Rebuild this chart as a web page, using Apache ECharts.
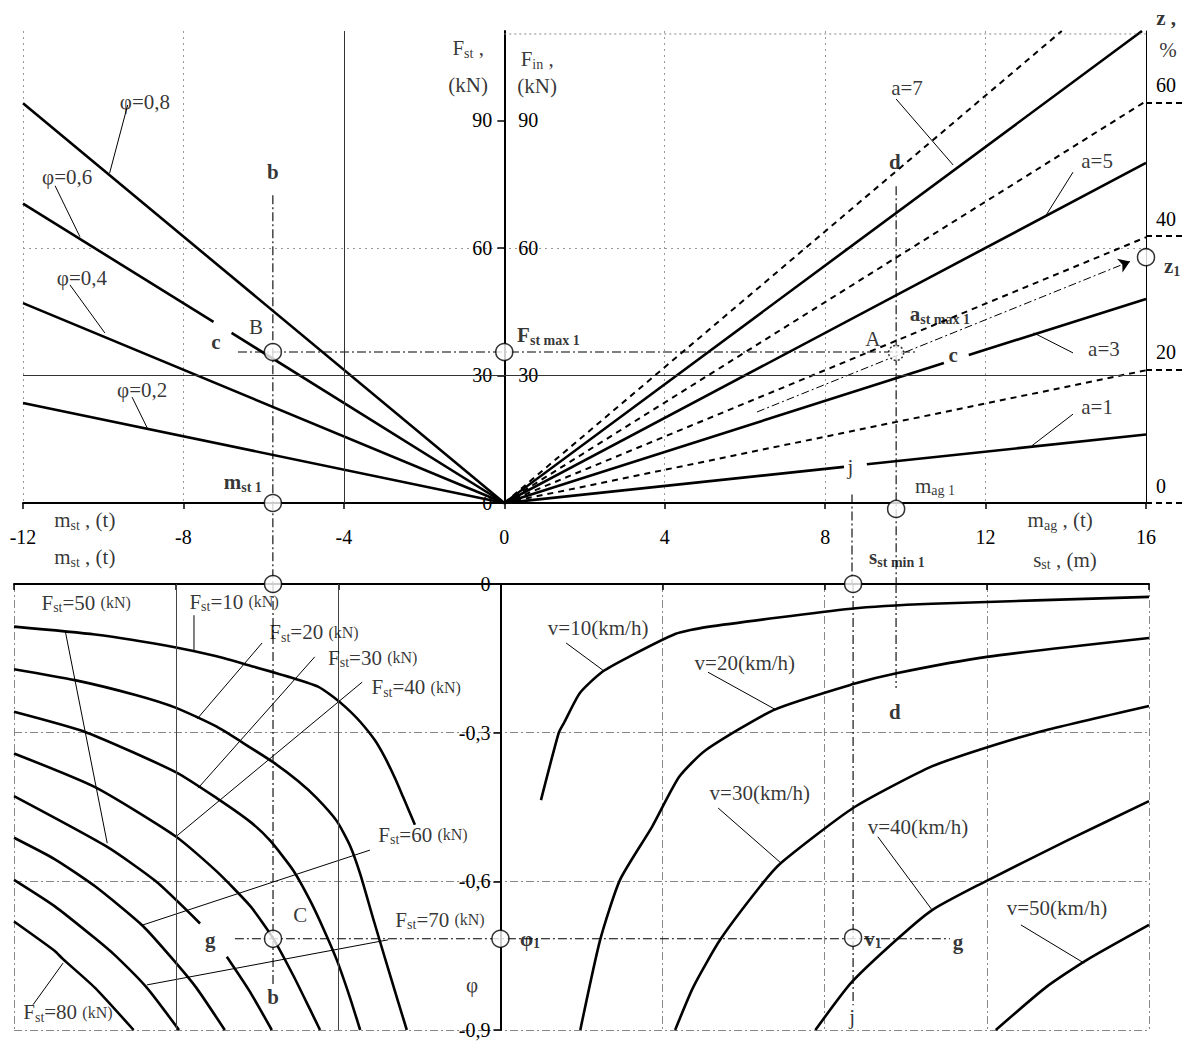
<!DOCTYPE html>
<html><head><meta charset="utf-8">
<script src="https://cdn.jsdelivr.net/npm/echarts@6/dist/echarts.min.js"></script>
<style>html,body{margin:0;padding:0;background:#fff}#c{width:1186px;height:1042px}</style>
</head><body><div id="c"></div>
<script>
// ================= DATA =================
const xTicks = [-12, -8, -4, 0, 4, 8, 12, 16];
const fStTicks = [0, 30, 60, 90];
const fInTicks = [30, 60, 90];
const zTicks = [0, 20, 40, 60];
const phiTicks = [-0.9, -0.6, -0.3, 0];

// top-left: F_st vs m_st for friction coefficient φ = 0.8, 0.6, 0.4, 0.2
const phiLines = [
  [[-12, 94.0], [0, 0]],
  [[-12, 70.4], [-7.25, 42.6], null, [-6.8, 40.0], [0, 0]],
  [[-12, 47.0], [0, 0]],
  [[-12, 23.5], [0, 0]]
];
// top-right: F_in vs m_ag for deceleration a = 7, 5, 3, 1
const accelLines = [
  [[0, 0], [15.9, 111]],
  [[0, 0], [16, 80]],
  [[0, 0], [10.96, 32.9], null, [11.58, 34.8], [16, 48]],
  [[0, 0], [8.47, 8.5], null, [9.04, 9.1], [16, 16.1]]
];
// top-right dashed: grade lines z = 20, 40, 60, 80 %
const gradeLines = [
  [[0, 0], [16, 31.2]],
  [[0, 0], [16, 62.5]],
  [[0, 0], [16, 94.5]],
  [[0, 0], [13.9, 111]]
];
// bottom-left: φ vs m_st for F_st = 10..80 kN
const stCurves = [
  [[-12,-0.086],[-10,-0.102],[-8,-0.128],[-7,-0.146],[-6.17,-0.165],[-5.11,-0.19],[-4.5,-0.207],[-4.12,-0.228],[-3.8,-0.25],[-3.46,-0.278],[-3.1,-0.315],[-2.85,-0.35],[-2.6,-0.392],[-2.4,-0.43],[-2.11,-0.486]],
  [[-12,-0.172],[-10.5,-0.194],[-9,-0.224],[-8,-0.25],[-7,-0.288],[-6.17,-0.33],[-5.6,-0.36],[-5,-0.397],[-4.53,-0.432],[-4.04,-0.478],[-3.71,-0.528],[-3.46,-0.585],[-3.14,-0.675],[-2.72,-0.79],[-2.31,-0.90]],
  [[-12,-0.258],[-10.2,-0.30],[-8,-0.38],[-7,-0.432],[-6.17,-0.48],[-5.68,-0.518],[-5.11,-0.578],[-4.7,-0.638],[-4.37,-0.695],[-4.04,-0.758],[-3.71,-0.835],[-3.46,-0.90]],
  [[-12,-0.342],[-10,-0.41],[-8,-0.51],[-7,-0.58],[-6.17,-0.65],[-5.6,-0.716],[-5.11,-0.79],[-4.7,-0.858],[-4.45,-0.90]],
  [[-12,-0.428],[-9.71,-0.53],[-8.5,-0.6],[-7.41,-0.685],null,[-6.75,-0.752],[-6.2,-0.82],[-5.64,-0.90]],
  [[-12,-0.512],[-11,-0.555],[-10,-0.61],[-8.82,-0.69],[-8,-0.765],[-7.5,-0.815],[-6.8,-0.90]],
  [[-12,-0.597],[-11,-0.65],[-10,-0.715],[-9.5,-0.75],[-8.72,-0.815],[-7.93,-0.90]],
  [[-12,-0.681],[-11,-0.74],[-10.79,-0.757],[-10,-0.815],[-9.05,-0.90]]
];
// bottom-right: φ vs s_st for v = 10..50 km/h
const vCurves = [
  [[16,-0.026],[10.65,-0.040],[8.65,-0.050],[5.07,-0.087],[4.31,-0.101],[3.17,-0.147],[2.5,-0.178],[1.96,-0.22],[1.57,-0.28],[1.44,-0.30],[1.0,-0.436]],
  [[16,-0.109],[12,-0.147],[9.77,-0.18],[8.7,-0.202],[6.75,-0.254],[5.07,-0.335],[4.41,-0.389],[3.74,-0.49],[2.95,-0.597],[2.46,-0.718],[1.97,-0.90]],
  [[16,-0.246],[13.45,-0.295],[11.8,-0.335],[10.56,-0.371],[8.7,-0.452],[6.92,-0.563],[6.4,-0.611],[5.42,-0.718],[4.76,-0.813],[4.31,-0.90]],
  [[16,-0.438],[14,-0.517],[11.8,-0.607],[10.65,-0.658],[9.77,-0.718],[8.65,-0.805],[7.77,-0.90]],
  [[16,-0.688],[14.46,-0.759],[13.47,-0.813],[12.22,-0.90]]
];
// construction (dash-dot) lines
const constrTop = [
  [[-6.64, 35.5], [10.3, 35.5]],
  [[-5.77, 72.4], [-5.77, -18.8]],
  [[9.77, 74.5], [9.77, -18.8]],
  [[8.67, 2.0], [8.67, -18.8]]
];
const arrowTop = [[6.3, 21.4], [15.6, 56.8]];
const constrBot = [
  [[-5.61, 0], [-5.61, -0.81]],
  [[9.76, 0], [9.76, -0.21]],
  [[8.7, 0], [8.7, -0.85]],
  [[-6.55, -0.716], [11.09, -0.716]]
];
const topFrame = [[0, 110.3], [16, 110.3]];
// key points
const circlesTop = [[-5.77, 35.5], [0, 35.5], [-5.77, 0], [9.77, -1.4], [16, 57.8]];
const circleA = [[9.77, 35.3]];
const circlesBot = [[-5.61, 0], [8.7, 0], [-5.61, -0.716], [0, -0.716], [8.7, -0.714]];
// leader lines
const leadersTop = [
  [[-9.39, 93.6], [-9.84, 77.6]], [[-11.2, 74.6], [-10.58, 62.6]],
  [[-10.83, 51.3], [-9.96, 40.0]], [[-9.28, 24.9], [-8.9, 17.6]],
  [[9.77, 95.0], [11.19, 79.5]], [[14.18, 77.8], [13.51, 67.7]],
  [[14.18, 35.3], [13.2, 40.0]], [[14.18, 20.9], [13.16, 13.5]]
];
const leadersBot = [
  [[-10.74, -0.093], [-9.70, -0.523]], [[-7.56, -0.063], [-7.56, -0.133]],
  [[-5.88, -0.119], [-7.48, -0.272]], [[-4.58, -0.147], [-7.46, -0.412]],
  [[-3.41, -0.198], [-7.98, -0.508]], [[-3.22, -0.537], [-8.82, -0.688]],
  [[-2.77, -0.718], [-8.72, -0.809]], [[-11.53, -0.849], [-10.79, -0.765]],
  [[1.62, -0.119], [2.53, -0.174]], [[5.12, -0.178], [6.8, -0.254]],
  [[5.37, -0.452], [6.92, -0.563]], [[9.31, -0.51], [10.65, -0.658]],
  [[12.84, -0.688], [14.4, -0.765]]
];
// text annotations [x, y, text]  (_{..} subscript, ~{..} small)
const labelsTop = [
  [-8.96, 94.3, 'φ=0,8'], [-10.9, 76.7, 'φ=0,6'], [-10.53, 52.9, 'φ=0,4'], [-9.03, 26.6, 'φ=0,2'],
  [10.04, 97.6, 'a=7'], [14.78, 80.4, 'a=5'], [14.95, 36.2, 'a=3'], [14.78, 22.6, 'a=1'],
  [-6.19, 41.4, 'B'], [9.19, 38.6, 'A'], [8.63, 8.5, 'j'], [10.74, 4.0, 'm_{ag 1}'],
  [-0.9, 107, 'F_{st} ,'], [-0.9, 98.3, '(kN)'], [0.82, 104.4, 'F_{in} ,'], [0.82, 98, '(kN)'],
  [16.55, 106.5, '%'],
  [-10.46, -4.0, 'm_{st} , (t)'], [-10.46, -12.7, 'm_{st} , (t)'],
  [13.86, -4.0, 'm_{ag} , (t)'], [13.98, -13.4, 's_{st} , (m)']
];
const boldTop = [
  [-5.77, 77.8, 'b'], [-7.19, 37.9, 'c'], [11.19, 34.8, 'c'], [9.74, 80.2, 'd'],
  [-6.52, 4.9, 'm_{st 1}'], [1.1, 39.5, 'F_{st max 1}'], [10.86, 44.4, 'a_{st max 1}'],
  [16.65, 55.7, 'z_{1}'], [16.5, 114.1, 'z ,'], [9.79, -12.7, 's_{st min 1}']
];
const labelsBot = [
  [-10.22, -0.038, 'F_{st}=50 ~{(kN)}'], [-6.57, -0.036, 'F_{st}=10 ~{(kN)}'],
  [-4.6, -0.097, 'F_{st}=20 ~{(kN)}'], [-3.15, -0.149, 'F_{st}=30 ~{(kN)}'],
  [-2.08, -0.208, 'F_{st}=40 ~{(kN)}'], [-1.91, -0.506, 'F_{st}=60 ~{(kN)}'],
  [-1.49, -0.678, 'F_{st}=70 ~{(kN)}'], [-10.67, -0.864, 'F_{st}=80 ~{(kN)}'],
  [2.41, -0.089, 'v=10(km/h)'], [6.03, -0.159, 'v=20(km/h)'], [6.4, -0.422, 'v=30(km/h)'],
  [10.3, -0.49, 'v=40(km/h)'], [13.73, -0.654, 'v=50(km/h)'],
  [-4.94, -0.668, 'C'], [-0.7, -0.809, 'φ'], [8.68, -0.874, 'j']
];
const boldBot = [
  [-7.16, -0.718, 'g'], [11.29, -0.722, 'g'], [-5.61, -0.833, 'b'],
  [0.73, -0.716, 'φ_{1}'], [9.19, -0.716, 'v_{1}'], [9.73, -0.258, 'd']
];

// ================= RENDER =================
const FONT = 'Liberation Serif';
const RICH = {
  n: {fontFamily: FONT, fontSize: 21, color: '#000', lineHeight: 24},
  s: {fontFamily: FONT, fontSize: 14, color: '#000', lineHeight: 14, verticalAlign: 'bottom'},
  k: {fontFamily: FONT, fontSize: 16, color: '#000', lineHeight: 24},
  b: {fontFamily: FONT, fontSize: 21, fontWeight: 'bold', color: '#000', lineHeight: 24},
  bs: {fontFamily: FONT, fontSize: 14, fontWeight: 'bold', color: '#000', lineHeight: 14, verticalAlign: 'bottom'}
};
function toRich(t, bold) {
  return t.split(/(_\{[^}]*\}|~\{[^}]*\})/).filter(p => p.length).map(p => {
    if (p.startsWith('_{')) return '{' + (bold ? 'bs' : 's') + '|' + p.slice(2, -1) + '}';
    if (p.startsWith('~{')) return '{k|' + p.slice(2, -1) + '}';
    return '{' + (bold ? 'b' : 'n') + '|' + p + '}';
  }).join('');
}
const CURVE = {color: '#000', width: 2.6};
const DASH = {color: '#000', width: 2, type: [6, 5]};
const DASHDOT = {color: '#000', width: 1.1, type: [9, 3, 2, 3]};
const LEADER = {color: '#000', width: 1};
const S = [];
function addLine(pts, xi, yi, style, extra) {
  let seg = [];
  const flush = () => {
    if (seg.length > 1) S.push(Object.assign({type: 'line', xAxisIndex: xi, yAxisIndex: yi, data: seg,
      showSymbol: false, symbol: 'none', silent: true, animation: false, clip: false, lineStyle: style, z: 3}, extra || {}));
    seg = [];
  };
  pts.forEach(p => { if (p === null) flush(); else seg.push(p); });
  flush();
}
function addLabels(arr, xi, yi, bold) {
  S.push({type: 'scatter', xAxisIndex: xi, yAxisIndex: yi, symbol: 'circle', symbolSize: 1,
    itemStyle: {color: 'rgba(0,0,0,0)'}, clip: false, silent: true, animation: false, z: 10,
    data: arr.map(a => ({value: [a[0], a[1]], rt: toRich(a[2], bold)})),
    label: {show: true, position: 'inside', formatter: p => p.data.rt, rich: RICH}});
}
function addCircles(arr, xi, yi, size, dotted) {
  S.push({type: 'scatter', xAxisIndex: xi, yAxisIndex: yi, symbol: 'circle', symbolSize: size,
    clip: false, silent: true, animation: false, z: 8, data: arr,
    itemStyle: {color: '#fff', borderColor: '#000', borderWidth: 1.5, borderType: dotted ? [2, 2] : 'solid'}});
}

phiLines.forEach(l => addLine(l, 0, 0, CURVE));
accelLines.forEach(l => addLine(l, 0, 0, CURVE));
gradeLines.forEach(l => addLine(l, 0, 0, DASH));
stCurves.forEach(l => addLine(l, 1, 3, CURVE, {smooth: 0.2}));
vCurves.forEach(l => addLine(l, 1, 3, CURVE, {smooth: 0.2}));
constrTop.forEach(l => addLine(l, 0, 0, DASHDOT));
constrBot.forEach(l => addLine(l, 1, 3, DASHDOT));
leadersTop.forEach(l => addLine(l, 0, 0, LEADER));
leadersBot.forEach(l => addLine(l, 1, 3, LEADER));
addLine(topFrame, 0, 0, {color: '#888', width: 1, type: [2, 3]});
S.push({type: 'lines', coordinateSystem: 'cartesian2d', xAxisIndex: 0, yAxisIndex: 0, silent: true, animation: false,
  symbol: ['none', 'arrow'], symbolSize: 11, lineStyle: {color: '#000', width: 1, type: [8, 3, 2, 3], opacity: 1},
  data: [{coords: arrowTop}], z: 4});
// solid reference grid lines
S.push({type: 'line', xAxisIndex: 0, yAxisIndex: 0, data: [], markLine: {silent: true, symbol: 'none', animation: false,
  label: {show: false}, lineStyle: {color: '#333', width: 1, type: 'solid'}, data: [{xAxis: -4}, {yAxis: 30}]}});
S.push({type: 'line', xAxisIndex: 1, yAxisIndex: 3, data: [], markLine: {silent: true, symbol: 'none', animation: false,
  label: {show: false}, lineStyle: {color: '#444', width: 1, type: 'solid'}, data: [{xAxis: -8}, {xAxis: -4}]}});
addCircles(circlesTop, 0, 0, 17, false);
addCircles(circleA, 0, 0, 15, true);
addCircles(circlesBot, 1, 3, 17, false);
addLabels(labelsTop, 0, 0, false);
addLabels(boldTop, 0, 0, true);
addLabels(labelsBot, 1, 3, false);
addLabels(boldBot, 1, 3, true);

const TICKFONT = {fontFamily: FONT, fontSize: 20, color: '#000'};
const option = {
  animation: false,
  backgroundColor: '#fff',
  textStyle: {fontFamily: FONT},
  grid: [
    {left: 23, right: 40, top: 31, height: 472},
    {left: 14, right: 37, top: 584, height: 446}
  ],
  xAxis: [
    {gridIndex: 0, type: 'value', min: -12, max: 16, interval: 4, position: 'bottom',
      axisLine: {onZero: false, lineStyle: {color: '#000', width: 2}},
      axisTick: {length: 6, lineStyle: {color: '#000', width: 1.5}, customValues: xTicks},
      axisLabel: Object.assign({margin: 24, customValues: xTicks}, TICKFONT),
      splitLine: {show: true, lineStyle: {color: '#999', width: 1, type: [2, 4]}}},
    {gridIndex: 1, type: 'value', min: -12, max: 16, interval: 4, position: 'top',
      axisLine: {onZero: false, lineStyle: {color: '#000', width: 2}},
      axisTick: {inside: true, length: 6, lineStyle: {color: '#000', width: 1.5}},
      axisLabel: {show: false},
      splitLine: {show: true, lineStyle: {color: '#888', width: 1, type: [8, 3, 2, 3]}}}
  ],
  yAxis: [
    {gridIndex: 0, type: 'value', min: 0, max: 111, interval: 30, position: 'left', offset: -481.3,
      axisLine: {onZero: false, lineStyle: {color: '#000', width: 2}},
      axisTick: {length: 7, lineStyle: {color: '#000', width: 1.5}, customValues: fStTicks},
      axisLabel: Object.assign({margin: 12, customValues: fStTicks}, TICKFONT),
      splitLine: {show: true, showMaxLine: false, lineStyle: {color: '#999', width: 1, type: [2, 4]}}},
    {gridIndex: 0, type: 'value', min: 0, max: 111, interval: 30, position: 'left', offset: -481.3,
      axisLine: {show: false, onZero: false}, axisTick: {show: false}, splitLine: {show: false},
      axisLabel: Object.assign({inside: true, margin: 14, customValues: fInTicks}, TICKFONT)},
    {gridIndex: 0, type: 'value', min: 0, max: 70.7, interval: 20, position: 'right',
      axisLine: {show: true, onZero: false, lineStyle: {color: '#000', width: 1}},
      axisTick: {length: 40, lineStyle: {color: '#000', width: 2, type: [6, 4]}, customValues: zTicks},
      axisLabel: Object.assign({margin: 10, verticalAlign: 'bottom', padding: [0, 0, 7, 0], customValues: zTicks}, TICKFONT),
      splitLine: {show: false}},
    {gridIndex: 1, type: 'value', min: -0.9, max: 0, interval: 0.3, position: 'left', offset: -486.4,
      axisLine: {onZero: false, lineStyle: {color: '#000', width: 2}},
      axisTick: {length: 7, lineStyle: {color: '#000', width: 1.5}, customValues: phiTicks},
      axisLabel: Object.assign({margin: 10, customValues: phiTicks,
        formatter: v => Math.abs(v) < 1e-9 ? '0' : (+v).toFixed(1).replace('.', ',')}, TICKFONT),
      splitLine: {show: true, showMaxLine: false, lineStyle: {color: '#888', width: 1, type: [8, 3, 2, 3]}}}
  ],
  series: S
};
const chart = echarts.init(document.getElementById('c'), null, {renderer: 'svg'});
chart.setOption(option);
</script></body></html>
